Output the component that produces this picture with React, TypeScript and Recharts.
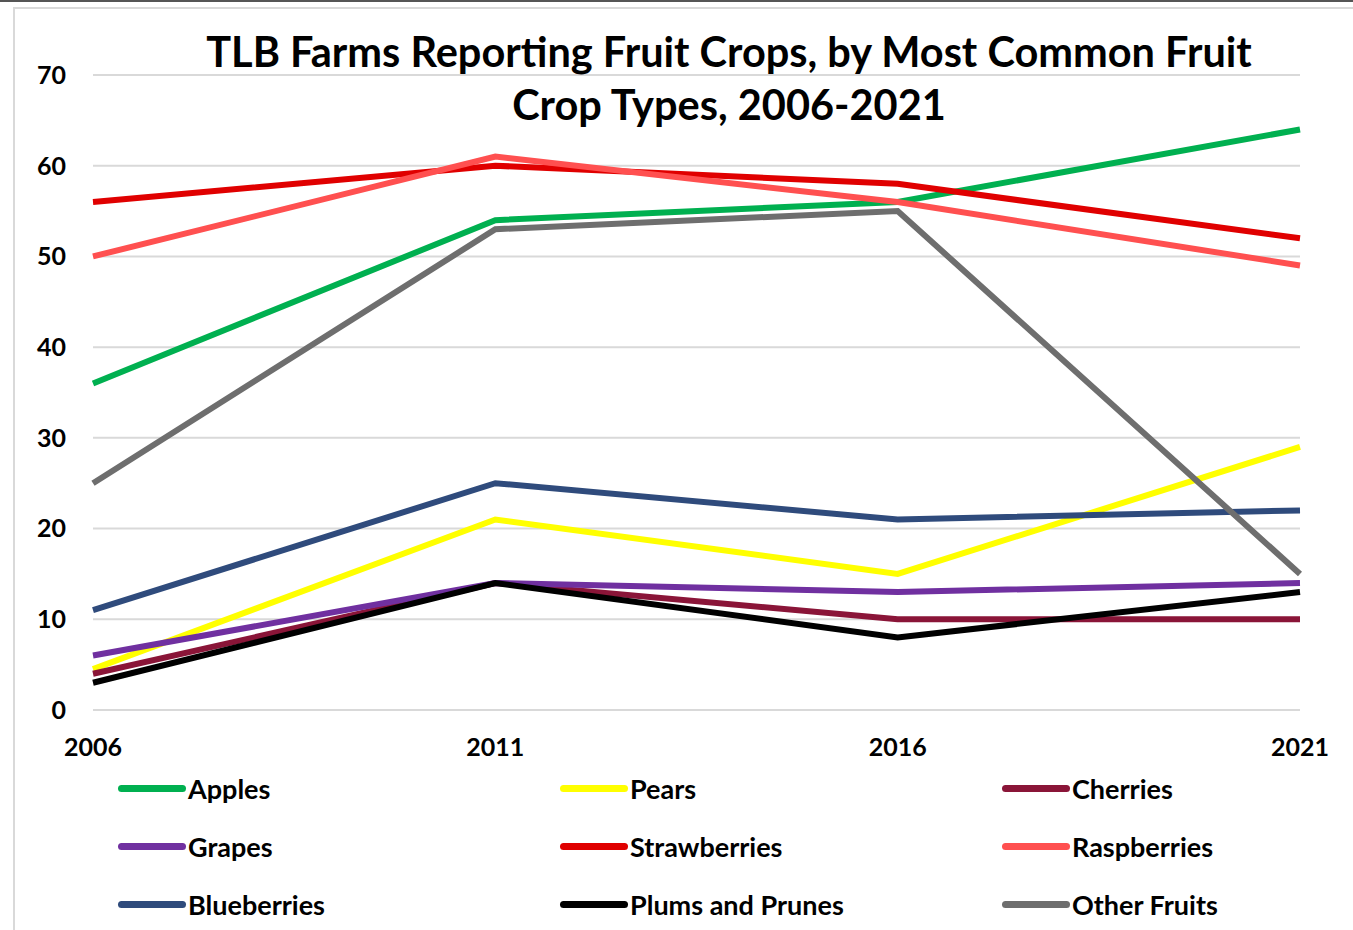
import { LineChart, Line, XAxis, YAxis, CartesianGrid } from 'recharts';

const years = ['2006', '2011', '2016', '2021'];
const apples = [36, 54, 56, 64];
const pears = [4.5, 21, 15, 29];
const cherries = [4, 14, 10, 10];
const grapes = [6, 14, 13, 14];
const strawberries = [56, 60, 58, 52];
const raspberries = [50, 61, 56, 49];
const blueberries = [11, 25, 21, 22];
const plums = [3, 14, 8, 13];
const otherFruits = [25, 53, 55, 15];

const yTicks = [0, 10, 20, 30, 40, 50, 60, 70];

const SERIES = [
  { key: 'Apples', values: apples, color: '#00b050' },
  { key: 'Pears', values: pears, color: '#ffff00' },
  { key: 'Cherries', values: cherries, color: '#8a1538' },
  { key: 'Grapes', values: grapes, color: '#7030a0' },
  { key: 'Strawberries', values: strawberries, color: '#e00000' },
  { key: 'Raspberries', values: raspberries, color: '#ff5050' },
  { key: 'Blueberries', values: blueberries, color: '#2f4b7c' },
  { key: 'Plums and Prunes', values: plums, color: '#000000' },
  { key: 'Other Fruits', values: otherFruits, color: '#6e6e6e' },
];

const data = years.map((year, i) => {
  const row: Record<string, string | number> = { year };
  SERIES.forEach((s) => {
    row[s.key] = s.values[i];
  });
  return row;
});

const FONT = 'Lato, "Open Sans", sans-serif';

// legend drawn as plain html so it doesn't shrink the plot area
function FruitLegend() {
  return (
    <div
      style={{
        position: 'absolute',
        left: 0,
        top: 775,
        display: 'grid',
        gridTemplateColumns: '442px 442px 300px',
        rowGap: 32,
        paddingLeft: 118,
        fontFamily: FONT,
        fontWeight: 700,
        fontSize: 27,
        color: '#000',
      }}
    >
      {SERIES.map((s) => (
        <div key={s.key} style={{ display: 'flex', alignItems: 'center', height: 26, whiteSpace: 'nowrap' }}>
          <span
            style={{
              display: 'inline-block',
              width: 68,
              height: 7,
              borderRadius: 4,
              background: s.color,
              marginRight: 2,
              flexShrink: 0,
            }}
          />
          <span>{s.key}</span>
        </div>
      ))}
    </div>
  );
}

export default function App() {
  return (
    <div
      style={{
        position: 'fixed',
        left: 0,
        top: 0,
        width: 1353,
        height: 930,
        background: '#fff',
        overflow: 'hidden',
      }}
    >
      <div style={{ position: 'absolute', left: 0, top: 0, width: 1353, height: 2, background: '#555' }} />
      <div
        style={{
          position: 'absolute',
          left: 13,
          top: 7,
          width: 1400,
          height: 1000,
          borderTop: '2px solid #d9d9d9',
          borderLeft: '2px solid #d9d9d9',
        }}
      />
      <div style={{ position: 'absolute', left: 0, top: 0 }}>
        <LineChart
          width={1353}
          height={930}
          data={data}
          margin={{ top: 75, right: 53, bottom: 190, left: 13 }}
        >
          <CartesianGrid vertical={false} stroke="#d9d9d9" strokeWidth={2} />
          <XAxis
            dataKey="year"
            height={30}
            axisLine={false}
            tickLine={false}
            tickSize={0}
            tickMargin={28}
            interval={0}
            padding={{ left: 0, right: 0 }}
            tick={{ fill: '#000', fontFamily: FONT, fontWeight: 700, fontSize: 25 }}
          />
          <YAxis
            width={80}
            domain={[0, 70]}
            ticks={yTicks}
            axisLine={false}
            tickLine={false}
            tickSize={0}
            tickMargin={27}
            tick={{ fill: '#000', fontFamily: FONT, fontWeight: 700, fontSize: 25 }}
          />
          {SERIES.map((s) => (
            <Line
              key={s.key}
              type="linear"
              dataKey={s.key}
              stroke={s.color}
              strokeWidth={6}
              dot={false}
              activeDot={false}
              isAnimationActive={false}
            />
          ))}
        </LineChart>
      </div>
      <div
        style={{
          position: 'absolute',
          left: 0,
          top: 25,
          width: 1458,
          textAlign: 'center',
          fontFamily: FONT,
          fontWeight: 700,
          fontSize: 41.5,
          lineHeight: '53px',
          color: '#000',
        }}
      >
        TLB Farms Reporting Fruit Crops, by Most Common Fruit
        <br />
        Crop Types, 2006-2021
      </div>
      <FruitLegend />
    </div>
  );
}
